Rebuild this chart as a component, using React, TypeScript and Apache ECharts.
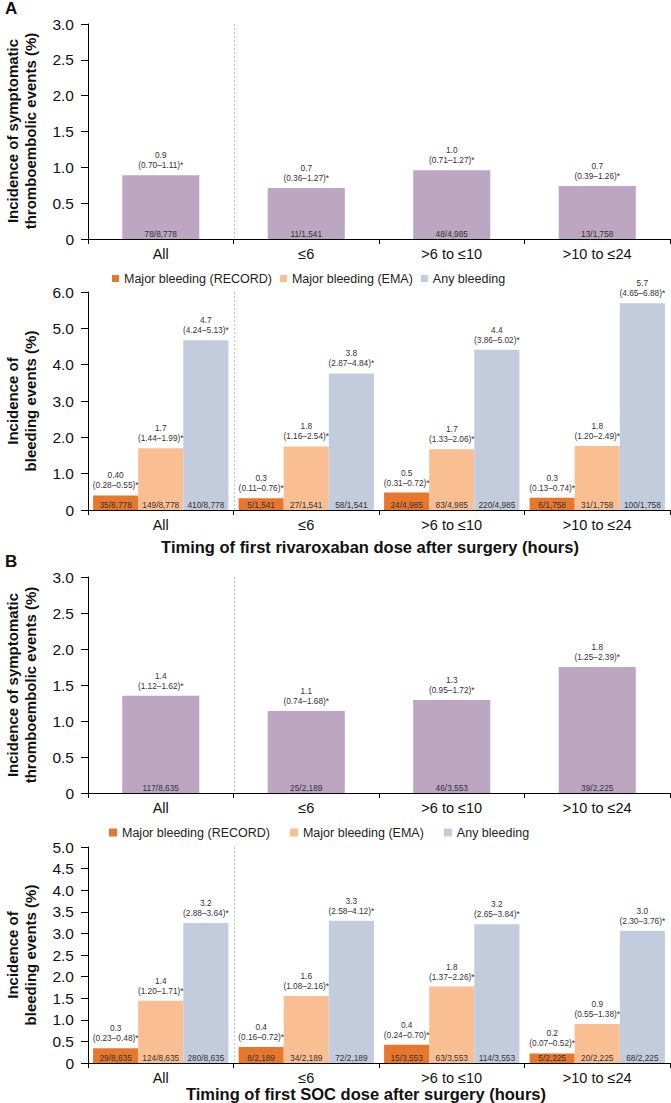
import React, { useEffect, useRef } from "react";
import * as echarts from "echarts";

const FONT = "'Liberation Sans', Arial, Helvetica, sans-serif";

const categories = ["All", "≤6", ">6 to ≤10", ">10 to ≤24"];
const bleedNames = ["Major bleeding (RECORD)", "Major bleeding (EMA)", "Any bleeding"];
const bleedColors = ["#e8772e", "#f9bf93", "#c3ccdc"];
const teColor = "#bca6c1";

// ---------- Panel A (rivaroxaban) ----------
const aTeValues = [0.89, 0.71, 0.96, 0.74];
const aTeText = ["0.9", "0.7", "1.0", "0.7"];
const aTeCI = ["(0.70–1.11)*", "(0.36–1.27)*", "(0.71–1.27)*", "(0.39–1.26)*"];
const aTeCounts = ["78/8,778", "11/1,541", "48/4,985", "13/1,758"];

const aRecordValues = [0.4, 0.32, 0.48, 0.34];
const aRecordText = ["0.40", "0.3", "0.5", "0.3"];
const aRecordCI = ["(0.28–0.55)*", "(0.11–0.76)*", "(0.31–0.72)*", "(0.13–0.74)*"];
const aRecordCounts = ["35/8,778", "5/1,541", "24/4,985", "6/1,758"];

const aEmaValues = [1.7, 1.75, 1.67, 1.76];
const aEmaText = ["1.7", "1.8", "1.7", "1.8"];
const aEmaCI = ["(1.44–1.99)*", "(1.16–2.54)*", "(1.33–2.06)*", "(1.20–2.49)*"];
const aEmaCounts = ["149/8,778", "27/1,541", "83/4,985", "31/1,758"];

const aAnyValues = [4.67, 3.76, 4.41, 5.69];
const aAnyText = ["4.7", "3.8", "4.4", "5.7"];
const aAnyCI = ["(4.24–5.13)*", "(2.87–4.84)*", "(3.86–5.02)*", "(4.65–6.88)*"];
const aAnyCounts = ["410/8,778", "58/1,541", "220/4,985", "100/1,758"];

// ---------- Panel B (SOC) ----------
const bTeValues = [1.35, 1.14, 1.29, 1.75];
const bTeText = ["1.4", "1.1", "1.3", "1.8"];
const bTeCI = ["(1.12–1.62)*", "(0.74–1.68)*", "(0.95–1.72)*", "(1.25–2.39)*"];
const bTeCounts = ["117/8,635", "25/2,189", "46/3,553", "39/2,225"];

const bRecordValues = [0.34, 0.37, 0.42, 0.22];
const bRecordText = ["0.3", "0.4", "0.4", "0.2"];
const bRecordCI = ["(0.23–0.48)*", "(0.16–0.72)*", "(0.24–0.70)*", "(0.07–0.52)*"];
const bRecordCounts = ["29/8,635", "8/2,189", "15/3,553", "5/2,225"];

const bEmaValues = [1.44, 1.55, 1.77, 0.9];
const bEmaText = ["1.4", "1.6", "1.8", "0.9"];
const bEmaCI = ["(1.20–1.71)*", "(1.08–2.16)*", "(1.37–2.26)*", "(0.55–1.38)*"];
const bEmaCounts = ["124/8,635", "34/2,189", "63/3,553", "20/2,225"];

const bAnyValues = [3.24, 3.29, 3.21, 3.06];
const bAnyText = ["3.2", "3.3", "3.2", "3.0"];
const bAnyCI = ["(2.88–3.64)*", "(2.58–4.12)*", "(2.65–3.84)*", "(2.30–3.76)*"];
const bAnyCounts = ["280/8,635", "72/2,189", "114/3,553", "68/2,225"];

// axis ranges [max, interval]
const teAxisA = [3, 0.5];
const bleedAxisA = [6, 1];
const teAxisB = [3, 0.5];
const bleedAxisB = [5, 0.5];

const LABEL_SIZE = 8.3;
const LABEL_COLOR = "#333";

function barPair(
  name: string,
  g: number,
  values: number[],
  texts: string[],
  ci: string[],
  counts: string[],
  color: string,
  catGap: string
) {
  const stack = `s${g}_${name}`;
  return [
    {
      type: "bar",
      name,
      xAxisIndex: g,
      yAxisIndex: g,
      stack,
      data: values,
      barGap: "0%",
      barCategoryGap: catGap,
      itemStyle: { color },
      label: {
        show: true,
        position: "insideBottom",
        distance: 1,
        fontSize: LABEL_SIZE,
        color: LABEL_COLOR,
        fontFamily: FONT,
        formatter: (p: any) => counts[p.dataIndex],
      },
    },
    {
      type: "bar",
      name: name + " label",
      xAxisIndex: g,
      yAxisIndex: g,
      stack,
      data: values.map(() => 0),
      barGap: "0%",
      barCategoryGap: catGap,
      itemStyle: { color: "transparent" },
      label: {
        show: true,
        position: "top",
        distance: 5,
        formatter: (p: any) => `{v|${texts[p.dataIndex]}}\n{c|${ci[p.dataIndex]}}`,
        rich: {
          v: { fontSize: LABEL_SIZE, lineHeight: 10, color: LABEL_COLOR, fontFamily: FONT, align: "center" },
          c: { fontSize: LABEL_SIZE, lineHeight: 10, color: LABEL_COLOR, fontFamily: FONT, align: "center" },
        },
      },
    },
  ];
}

const grids = [
  { left: 88, right: 1, top: 24, height: 215 },
  { left: 88, right: 1, top: 292, height: 218 },
  { left: 88, right: 1, top: 577, height: 216 },
  { left: 88, right: 1, top: 847, height: 216 },
];
const axisRanges = [teAxisA, bleedAxisA, teAxisB, bleedAxisB];

const yName = (id: string, text: string, y: number) => ({
  id,
  type: "text",
  x: 21,
  y,
  rotation: Math.PI / 2,
  style: {
    text,
    fontSize: 15,
    fontWeight: "bold",
    fontFamily: FONT,
    lineHeight: 18,
    fill: "#111",
    align: "center",
    verticalAlign: "middle",
  },
});
const title = (id: string, text: string, x: number, y: number) => ({
  id,
  type: "text",
  x,
  y,
  style: {
    text,
    fontSize: 16.5,
    fontWeight: "bold",
    fontFamily: FONT,
    fill: "#111",
    align: "center",
    verticalAlign: "middle",
  },
});
const panelLetter = (id: string, text: string, y: number) => ({
  id,
  type: "text",
  x: 5,
  y,
  style: {
    text,
    fontSize: 17,
    fontWeight: "bold",
    fontFamily: FONT,
    fill: "#111",
    align: "left",
    verticalAlign: "middle",
  },
});

function baseGraphics() {
  return [
    panelLetter("lA", "A", 8),
    panelLetter("lB", "B", 561),
    yName("y0", "Incidence of symptomatic\nthromboembolic events (%)", 131),
    yName("y1", "Incidence of\nbleeding events (%)", 401),
    yName("y2", "Incidence of symptomatic\nthromboembolic events (%)", 685),
    yName("y3", "Incidence of\nbleeding events (%)", 955),
    title("t0", "Timing of first rivaroxaban dose after surgery (hours)", 370, 547),
    title("t1", "Timing of first SOC dose after surgery (hours)", 366, 1094),
  ];
}

function buildOption() {
  const xAxis = grids.map((_, i) => ({
    type: "category",
    gridIndex: i,
    data: categories,
    axisLine: { show: true, lineStyle: { color: "#000", width: 1 } },
    axisTick: { show: true, length: 5, lineStyle: { color: "#000" } },
    axisLabel: { fontSize: 14.5, color: "#111", margin: 7, fontFamily: FONT, interval: 0 },
    splitLine: { show: false },
  }));
  const yAxis = grids.map((_, i) => ({
    type: "value",
    gridIndex: i,
    min: 0,
    max: axisRanges[i][0],
    interval: axisRanges[i][1],
    axisLine: { show: true, lineStyle: { color: "#000", width: 1 } },
    axisTick: { show: true, length: 7, lineStyle: { color: "#000" } },
    splitLine: { show: false },
    axisLabel: {
      fontSize: 15.5,
      color: "#111",
      margin: 14,
      fontFamily: FONT,
      formatter: (v: number) => (v === 0 ? "0" : v.toFixed(1)),
    },
  }));

  const series: any[] = [
    ...barPair("TE A", 0, aTeValues, aTeText, aTeCI, aTeCounts, teColor, "47%"),
    ...barPair(bleedNames[0], 1, aRecordValues, aRecordText, aRecordCI, aRecordCounts, bleedColors[0], "7%"),
    ...barPair(bleedNames[1], 1, aEmaValues, aEmaText, aEmaCI, aEmaCounts, bleedColors[1], "7%"),
    ...barPair(bleedNames[2], 1, aAnyValues, aAnyText, aAnyCI, aAnyCounts, bleedColors[2], "7%"),
    ...barPair("TE B", 2, bTeValues, bTeText, bTeCI, bTeCounts, teColor, "47%"),
    ...barPair(bleedNames[0], 3, bRecordValues, bRecordText, bRecordCI, bRecordCounts, bleedColors[0], "7%"),
    ...barPair(bleedNames[1], 3, bEmaValues, bEmaText, bEmaCI, bEmaCounts, bleedColors[1], "7%"),
    ...barPair(bleedNames[2], 3, bAnyValues, bAnyText, bAnyCI, bAnyCounts, bleedColors[2], "7%"),
  ];

  const legendBase = {
    data: bleedNames,
    icon: "rect",
    orient: "horizontal",
    padding: 0,
    selectedMode: false,
    textStyle: { fontSize: 12.5, color: "#222", fontFamily: FONT },
  };

  return {
    animation: false,
    textStyle: { fontFamily: FONT },
    grid: grids,
    xAxis,
    yAxis,
    series,
    legend: [
      { ...legendBase, left: 112, top: 272, itemWidth: 7, itemHeight: 7, itemGap: 8 },
      { ...legendBase, left: 109, top: 826, itemWidth: 8, itemHeight: 8, itemGap: 20 },
    ],
    graphic: baseGraphics(),
  };
}

export default function App() {
  const ref = useRef<HTMLDivElement>(null);
  useEffect(() => {
    if (!ref.current) return;
    const chart = echarts.init(ref.current, undefined, { renderer: "svg" });
    chart.setOption(buildOption() as any);
    // dotted separator between "All" and the timing groups, located via the axes
    const lines = grids.map((_, i) => {
      const x0 = chart.convertToPixel({ xAxisIndex: i } as any, categories[0]) as number;
      const x1 = chart.convertToPixel({ xAxisIndex: i } as any, categories[1]) as number;
      const yTop = chart.convertToPixel({ yAxisIndex: i } as any, axisRanges[i][0]) as number;
      const yBot = chart.convertToPixel({ yAxisIndex: i } as any, 0) as number;
      const xb = Math.round((x0 + x1) / 2) + 0.5;
      return {
        id: `sep${i}`,
        type: "line",
        z: 0,
        shape: { x1: xb, y1: yTop, x2: xb, y2: yBot },
        style: { stroke: "#c4c4c4", lineWidth: 1, lineDash: [2, 2] },
      };
    });
    chart.setOption({ graphic: [...baseGraphics(), ...lines] } as any);
    return () => chart.dispose();
  }, []);
  return (
    <div
      ref={ref}
      style={{ position: "absolute", left: 0, top: 0, width: 671, height: 1103, background: "#fff" }}
    />
  );
}
